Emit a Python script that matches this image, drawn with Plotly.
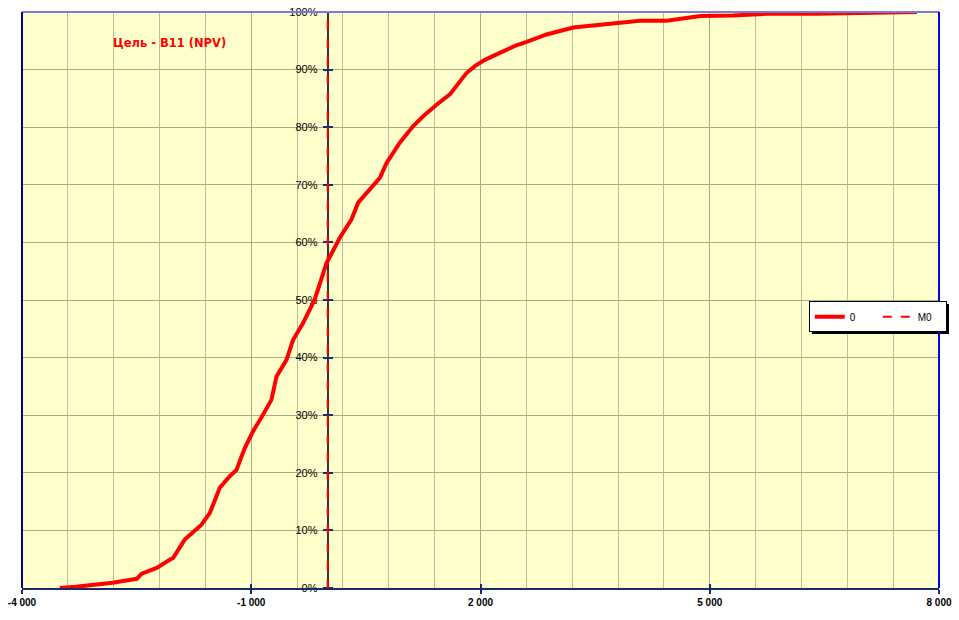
import plotly.graph_objects as go

# Cumulative distribution of NPV (target B11)
npv_values = [-3506, -3300, -2813, -2499, -2433, -2237, -2067, -2023, -1870, -1761, -1651,
              -1543, -1412, -1281, -1193, -1085, -976, -845, -735, -670, -539, -452,
              -322, -169, -15, 159, 312, 399, 552, 683, 771, 879, 944, 1119, 1250,
              1425, 1599, 1752, 1817, 1926, 2057, 2253, 2450, 2603, 2865, 3213, 3562,
              3955, 4086, 4435, 4880, 5304, 5749, 6403, 7712]
cum_prob = [0.000, 0.002, 0.009, 0.016, 0.025, 0.035, 0.049, 0.052, 0.084, 0.096, 0.110,
            0.130, 0.174, 0.194, 0.205, 0.243, 0.272, 0.301, 0.327, 0.367, 0.396, 0.431,
            0.460, 0.501, 0.564, 0.608, 0.640, 0.669, 0.692, 0.712, 0.738, 0.761, 0.773,
            0.802, 0.819, 0.839, 0.857, 0.883, 0.894, 0.906, 0.917, 0.929, 0.941, 0.948,
            0.961, 0.973, 0.978, 0.982, 0.985, 0.985, 0.993, 0.994, 0.997, 0.997, 1.000]

m0_x = [0, 0]
m0_y = [0, 1]

x_tickvals = [-4000, -1000, 2000, 5000, 8000]
x_ticktext = ["-4 000", "-1 000", "2 000", "5 000", "8 000"]
y_tickvals = [0, 0.1, 0.2, 0.3, 0.4, 0.5, 0.6, 0.7, 0.8, 0.9, 1.0]
y_ticktext = ["0%", "10%", "20%", "30%", "40%", "50%", "60%", "70%", "80%", "90%", "100%"]

title_text = "Цель - B11 (NPV)"

fig = go.Figure()
fig.add_trace(go.Scatter(x=npv_values, y=cum_prob, mode="lines", name="0",
                         line=dict(color="#FF0000", width=4), hoverinfo="skip"))
fig.add_trace(go.Scatter(x=m0_x, y=m0_y, mode="lines", name="M0",
                         line=dict(color="#FF0000", width=2, dash="dash"), hoverinfo="skip"))

# invisible trace to activate secondary axes (cross ticks)
fig.add_trace(go.Scatter(x=[None], y=[None], xaxis="x2", yaxis="y2", showlegend=False))

ypos = (0 - (-4000)) / 12000.0

PW, PH, L, T = 917.0, 576.0, 22.0, 12.0
def px_x(p):
    return (p - L) / PW
def px_y(p):
    return (T + PH - p) / PH

fig.update_layout(
    width=959, height=620,
    margin=dict(l=22, r=20, t=12, b=32, autoexpand=False),
    paper_bgcolor="white",
    plot_bgcolor="#FFFFCC",
    font=dict(family="Liberation Sans, Arial, sans-serif", color="black"),
    showlegend=True,
    legend=dict(orientation="h", x=0.858, y=0.498, xanchor="left", yanchor="top",
                bgcolor="white", bordercolor="black", borderwidth=1,
                font=dict(size=10, color="black"), itemwidth=30, tracegroupgap=0,
                entrywidth=23, entrywidthmode="pixels"),
    xaxis=dict(range=[-4000, 8000], tickvals=x_tickvals, ticktext=x_ticktext,
               showgrid=True, gridcolor="#A9A98C", gridwidth=1,
               minor=dict(dtick=600, tick0=-4000, showgrid=True, gridcolor="#BDBD9E", ticks=""),
               ticks="outside", ticklen=4, tickwidth=2, tickcolor="#1A2A6A",
               showline=True, linecolor="#1A2A6A", linewidth=2, mirror=False,
               zeroline=False, tickfont=dict(size=10, color="black", weight="bold"),
               automargin=False, fixedrange=True),
    xaxis2=dict(range=[-4000, 8000], overlaying="x", anchor="free", position=0,
                side="top", tickvals=x_tickvals, ticktext=["", "", "", "", ""],
                ticks="outside", ticklen=4, tickwidth=2, tickcolor="#1A2A6A",
                showgrid=False, showline=False, zeroline=False, automargin=False),
    yaxis=dict(range=[0, 1], tickvals=y_tickvals, ticktext=y_ticktext,
               anchor="free", position=ypos,
               showgrid=True, gridcolor="#A9A98C", gridwidth=1,
               ticks="outside", ticklen=4, tickwidth=2, tickcolor="#1A2A6A",
               showline=True, linecolor="#333344", linewidth=2, layer="below traces",
               zeroline=False, tickfont=dict(size=11, color="black"),
               ticklabelstandoff=3, automargin=False, fixedrange=True),
    yaxis2=dict(range=[0, 1], overlaying="y", anchor="free", position=ypos, side="right",
                tickvals=y_tickvals, ticktext=[""] * len(y_tickvals),
                ticks="outside", ticklen=4, tickwidth=2, tickcolor="#1A2A6A",
                showgrid=False, showline=False, zeroline=False, automargin=False),
    annotations=[dict(text=title_text, x=0.161, y=0.947, xref="paper", yref="paper",
                      xanchor="center", yanchor="middle", showarrow=False,
                      font=dict(family="DejaVu Sans", size=11.5, color="#FF0000", weight="bold"))],
    shapes=[
        # legend drop shadow
        dict(type="rect", xref="paper", yref="paper",
             x0=px_x(812), x1=px_x(949), y0=px_y(304), y1=px_y(334),
             fillcolor="black", line=dict(width=0), layer="above"),
        dict(type="line", xref="paper", yref="paper", x0=0, x1=1, y0=1, y1=1,
             line=dict(color="#7B7BDF", width=2), layer="above"),
        dict(type="line", xref="paper", yref="paper", x0=0, x1=0, y0=0, y1=1,
             line=dict(color="#00008B", width=2), layer="above"),
        dict(type="line", xref="paper", yref="paper", x0=1, x1=1, y0=0, y1=1,
             line=dict(color="#0000FF", width=2), layer="above"),
    ],
)

fig.write_html("out.html", post_script="document.body.style.margin='0';",
               config={"displayModeBar": False})
